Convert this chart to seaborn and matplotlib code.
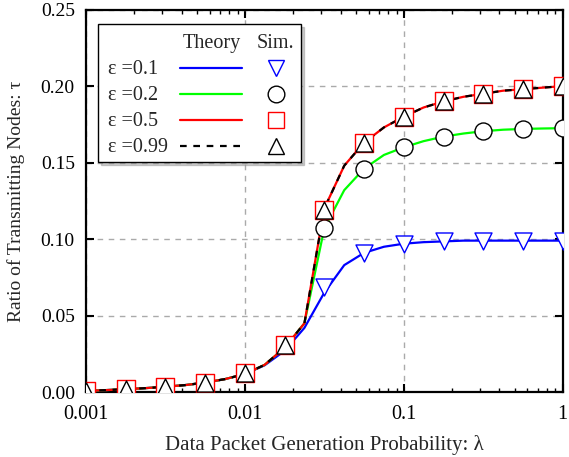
import numpy as np
import pandas as pd
import seaborn as sns
import matplotlib
matplotlib.use("Agg")
import matplotlib.pyplot as plt
from matplotlib.lines import Line2D
from matplotlib.text import Text
from matplotlib.legend_handler import HandlerBase
from matplotlib.ticker import FixedLocator, FixedFormatter, LogLocator, NullFormatter

# ---------------- data ----------------
lam_theory = [0.001, 0.00133, 0.00178, 0.00237, 0.00316, 0.00422, 0.00562, 0.0075,
              0.01, 0.0133, 0.0178, 0.0237, 0.0316, 0.0422, 0.0562, 0.075,
              0.1, 0.133, 0.178, 0.237, 0.316, 0.422, 0.562, 0.75, 1.0]
theory_eps01 = [0.0008, 0.0013, 0.0019, 0.0026, 0.0035, 0.0046, 0.0062, 0.0085,
                0.0118, 0.0175, 0.027, 0.042, 0.065, 0.083, 0.091, 0.095,
                0.097, 0.098, 0.0985, 0.099, 0.099, 0.099, 0.099, 0.099, 0.099]
theory_eps02 = [0.0008, 0.0013, 0.0019, 0.0026, 0.0035, 0.0046, 0.0062, 0.0085,
                0.0118, 0.0178, 0.029, 0.045, 0.107, 0.132, 0.146, 0.155,
                0.160, 0.164, 0.167, 0.169, 0.1705, 0.1715, 0.172, 0.1723, 0.1725]
theory_eps05 = [0.0008, 0.0013, 0.0019, 0.0026, 0.0035, 0.0046, 0.0062, 0.0085,
                0.0118, 0.0178, 0.029, 0.045, 0.120, 0.148, 0.163, 0.173,
                0.180, 0.186, 0.190, 0.193, 0.195, 0.197, 0.198, 0.199, 0.200]
theory_eps099 = [0.0008, 0.0013, 0.0019, 0.0026, 0.0035, 0.0046, 0.0062, 0.0085,
                 0.0118, 0.0178, 0.029, 0.045, 0.120, 0.148, 0.163, 0.173,
                 0.180, 0.186, 0.190, 0.193, 0.195, 0.197, 0.198, 0.199, 0.200]

lam_sim = [0.001, 0.00178, 0.00316, 0.00562, 0.01, 0.0178, 0.0316, 0.0562,
           0.1, 0.178, 0.316, 0.562, 1.0]
sim_eps01 = [0.001, 0.002, 0.0035, 0.006, 0.0125, 0.031, 0.069, 0.091,
             0.097, 0.099, 0.099, 0.099, 0.099]
sim_eps02 = [0.001, 0.002, 0.0035, 0.006, 0.0125, 0.031, 0.107, 0.146,
             0.160, 0.167, 0.1705, 0.172, 0.1725]
sim_eps05 = [0.001, 0.002, 0.0035, 0.006, 0.0125, 0.031, 0.119, 0.163,
             0.180, 0.190, 0.195, 0.198, 0.200]
sim_eps099 = [0.001, 0.002, 0.0035, 0.006, 0.0125, 0.031, 0.119, 0.163,
              0.180, 0.190, 0.195, 0.198, 0.200]

eps_labels = ["ε =0.1", "ε =0.2", "ε =0.5", "ε =0.99"]
x_ticks = [0.001, 0.01, 0.1, 1]
x_ticklabels = ["0.001", "0.01", "0.1", "1"]
y_ticks = [0.00, 0.05, 0.10, 0.15, 0.20, 0.25]
y_ticklabels = ["0.00", "0.05", "0.10", "0.15", "0.20", "0.25"]

# ---------------- style ----------------
sns.set_theme(style="ticks")
SERIF = ["Liberation Serif", "DejaVu Serif"]
plt.rcParams["font.family"] = SERIF

fig = plt.figure(figsize=(5.69, 4.57), dpi=100)
ax = fig.add_axes([0.151, 0.142, 0.838, 0.837])

line_colors = ["#0000ff", "#00ff00", "#ff0000", "#000000"]
marker_colors = ["#0000ff", "#000000", "#ff0000", "#000000"]
markers = ["v", "o", "s", "^"]
theory = [theory_eps01, theory_eps02, theory_eps05, theory_eps099]
sims = [sim_eps01, sim_eps02, sim_eps05, sim_eps099]
dashes = [None, None, None, (3, 3)]

for i in range(4):
    df = pd.DataFrame({"lam": lam_theory, "tau": theory[i]})
    sns.lineplot(data=df, x="lam", y="tau", ax=ax, color=line_colors[i], lw=1.6,
                 zorder=3 + i * 0.1)
    if dashes[i] is not None:
        ax.lines[-1].set_dashes(dashes[i])

for i in range(4):
    df = pd.DataFrame({"lam": lam_sim, "tau": sims[i]})
    sns.scatterplot(data=df, x="lam", y="tau", ax=ax, marker=markers[i], s=150,
                    facecolor="white", edgecolor=marker_colors[i], linewidth=1.0,
                    zorder=5 + i * 0.1)

ax.set_xscale("log")
ax.set_xlim(0.001, 1)
ax.set_ylim(0, 0.25)
ax.xaxis.set_major_locator(FixedLocator(x_ticks))
ax.xaxis.set_major_formatter(FixedFormatter(x_ticklabels))
ax.xaxis.set_minor_locator(LogLocator(base=10, subs=np.arange(2, 10)))
ax.xaxis.set_minor_formatter(NullFormatter())
ax.yaxis.set_major_locator(FixedLocator(y_ticks))
ax.yaxis.set_major_formatter(FixedFormatter(y_ticklabels))

ax.tick_params(which="both", direction="in", top=True, right=True,
               labelsize=14, colors="black")
ax.tick_params(which="major", length=6, width=1.5)
ax.tick_params(which="minor", length=3, width=1.0)
ax.tick_params(axis="y", pad=8)
ax.tick_params(axis="x", pad=9, labelsize=14.5)
for s in ax.spines.values():
    s.set_linewidth(1.6)
    s.set_color("black")

ax.grid(True, which="major", color="#aaaaaa", linestyle=(0, (4, 4)), lw=1.0)
ax.set_axisbelow(True)

ax.set_xlabel("Data Packet Generation Probability: λ", fontsize=15, labelpad=8)
ax.set_ylabel("Ratio of Transmitting Nodes: τ", fontsize=14, labelpad=11)


# ---------------- legend ----------------
class Header:
    pass


class Entry(tuple):
    pass


YSHIFT = -2.0


class HeaderHandler(HandlerBase):
    def create_artists(self, legend, orig_handle, xdescent, ydescent, width,
                       height, fontsize, trans):
        y = (height - ydescent) / 2.0 - 4.5 + YSHIFT
        t1 = Text(-xdescent + 0.565 * width, y, "Theory", ha="center",
                  va="baseline", fontsize=14.5, family=SERIF)
        t2 = Text(-xdescent + 0.905 * width, y, "Sim.", ha="center",
                  va="baseline", fontsize=14.5, family=SERIF)
        t1.set_transform(trans)
        t2.set_transform(trans)
        return [t1, t2]


class EntryHandler(HandlerBase):
    def create_artists(self, legend, orig_handle, xdescent, ydescent, width,
                       height, fontsize, trans):
        label, lcolor, mcolor, marker, dash = orig_handle
        y = (height - ydescent) / 2.0 + YSHIFT
        txt = Text(-xdescent + 2, y - 4.5, label, ha="left", va="baseline",
                   fontsize=14.5, family=SERIF)
        ln = Line2D([-xdescent + 0.40 * width, -xdescent + 0.725 * width], [y, y],
                    color=lcolor, lw=1.6)
        if dash is not None:
            ln.set_dashes(dash)
        mk = Line2D([-xdescent + 0.905 * width], [y], marker=marker, markersize=12,
                    markerfacecolor="white", markeredgecolor=mcolor,
                    markeredgewidth=1.0, linestyle="none")
        for a in (txt, ln, mk):
            a.set_transform(trans)
        return [txt, ln, mk]


handles = [Header()] + [Entry((eps_labels[i], line_colors[i], marker_colors[i],
                               markers[i], dashes[i])) for i in range(4)]
labels = [""] * 5
leg = ax.legend(handles, labels, loc="upper left", bbox_to_anchor=(0.025, 0.962),
                handler_map={Header: HeaderHandler(), Entry: EntryHandler()},
                handlelength=9.7, handleheight=0.9, handletextpad=0.0,
                labelspacing=0.38, borderpad=0.37, borderaxespad=0, fontsize=14,
                frameon=True, fancybox=False, shadow={"color": "#999999"})
leg.get_frame().set_edgecolor("black")
leg.get_frame().set_linewidth(1.0)
leg.set_zorder(10)

fig.savefig("out.png", dpi=100)
